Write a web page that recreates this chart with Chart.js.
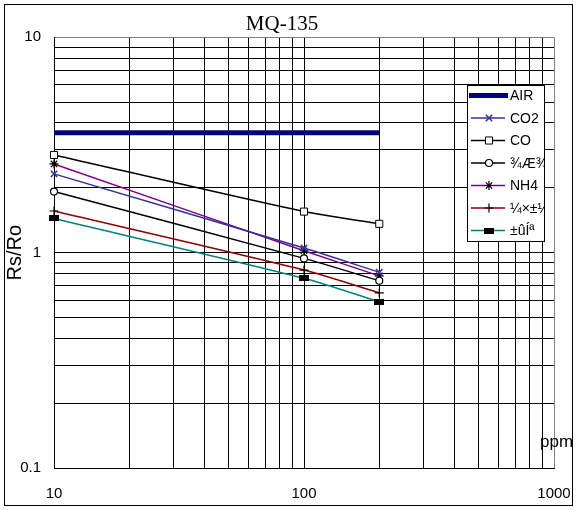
<!DOCTYPE html>
<html>
<head>
<meta charset="utf-8">
<title>MQ-135</title>
<script src="https://cdn.jsdelivr.net/npm/chart.js@4.4.0/dist/chart.umd.min.js"></script>
<style>
  html, body { margin: 0; padding: 0; background: #fff; }
  #caixa { width: 579px; height: 510px; }
</style>
</head>
<body>
<div id="caixa"><canvas id="grafico-mq135" width="579" height="510"></canvas></div>
<script>
// concentração (ppm) e Rs/Ro
const concentracoes = [10, 100, 200];
const arLimpo = [3.6, 3.6, 3.6];
const co2 = [2.32, 1.05, 0.81];
const co = [2.84, 1.55, 1.36];
const alcool = [1.92, 0.94, 0.74];
const nh4 = [2.58, 1.02, 0.78];
const tolueno = [1.56, 0.83, 0.65];
const acetona = [1.44, 0.76, 0.59];

const nomes = ["AIR", "CO2", "CO", "¾Æ¾«", "NH4", "¼×±½", "±ûÍª"];

const xTicks = [10, 20, 30, 40, 50, 60, 70, 80, 90, 100, 200, 300, 400, 500, 600, 700, 800, 900, 1000];
const yTicks = [0.1, 0.2, 0.3, 0.4, 0.5, 0.6, 0.7, 0.8, 0.9, 1, 2, 3, 4, 5, 6, 7, 8, 9, 10];
const xDecadas = [10, 100, 1000];
const xTickLabels = ["10", "100", "1000"];
const yDecadas = [0.1, 1, 10];
const yTickLabels = ["0.1", "1", "10"];

document.addEventListener("DOMContentLoaded", () => {
  const pontos = valores => concentracoes.map((x, i) => ({ x: x, y: valores[i] }));

  // marcador retangular preto (acetona)
  const marcaRet = document.createElement("canvas");
  marcaRet.width = 10;
  marcaRet.height = 6;
  const mctx = marcaRet.getContext("2d");
  mctx.fillStyle = "#000";
  mctx.fillRect(0, 0, 10, 6);

  const base = {
    fill: false,
    tension: 0.25,
    borderWidth: 1.5,
    clip: false,
    pointBorderWidth: 1.2,
    pointBackgroundColor: "#fff"
  };

  const series = [
    { ...base, label: nomes[0], data: pontos(arLimpo), borderColor: "#000080", borderWidth: 5, tension: 0, pointRadius: 0 },
    { ...base, label: nomes[1], data: pontos(co2), borderColor: "#333399", pointStyle: "crossRot", pointRadius: 4.5, pointBorderColor: "#333399", pointBorderWidth: 1.5 },
    { ...base, label: nomes[2], data: pontos(co), borderColor: "#000", pointStyle: "rect", pointRadius: 5, pointBorderColor: "#000", pointBorderWidth: 1 },
    { ...base, label: nomes[3], data: pontos(alcool), borderColor: "#000", pointStyle: "circle", pointRadius: 3.5, pointBorderColor: "#000" },
    { ...base, label: nomes[4], data: pontos(nh4), borderColor: "#800080", pointStyle: "star", pointRadius: 4.5, pointBorderColor: "#000" },
    { ...base, label: nomes[5], data: pontos(tolueno), borderColor: "#8b0000", pointStyle: "cross", pointRadius: 4.5, pointBorderColor: "#000" },
    { ...base, label: nomes[6], data: pontos(acetona), borderColor: "#008080", pointStyle: marcaRet, pointRadius: 5, pointBorderColor: "#000", pointBackgroundColor: "#000" }
  ];

  const extras = {
    id: "extras",
    afterDraw(chart) {
      const ctx = chart.ctx;
      ctx.save();
      // moldura externa
      ctx.strokeStyle = "#000";
      ctx.lineWidth = 1;
      ctx.strokeRect(4.5, 4.5, 568, 501);

      // unidade do eixo x
      ctx.fillStyle = "#000";
      ctx.font = "17px 'Liberation Sans', Arial, sans-serif";
      ctx.textBaseline = "middle";
      ctx.fillText("ppm", 540, 442);

      // legenda dentro da área do gráfico
      const lx = 467, ly = 85, lw = 77, lh = 156;
      ctx.fillStyle = "#fff";
      ctx.fillRect(lx, ly, lw, lh);
      ctx.strokeStyle = "#000";
      ctx.strokeRect(lx + 0.5, ly + 0.5, lw, lh);
      ctx.beginPath();
      ctx.rect(lx + 1, ly + 1, lw - 1, lh - 1);
      ctx.clip();
      chart.data.datasets.forEach((ds, i) => {
        const y = 95.5 + i * 22.5;
        ctx.strokeStyle = ds.borderColor;
        ctx.lineWidth = ds.borderWidth;
        ctx.beginPath();
        ctx.moveTo(ds.borderWidth > 3 ? 469 : 471, y);
        ctx.lineTo(ds.borderWidth > 3 ? 508 : 505, y);
        ctx.stroke();
        if (ds.pointRadius > 0) {
          ctx.strokeStyle = ds.pointBorderColor;
          ctx.fillStyle = ds.pointBackgroundColor;
          ctx.lineWidth = ds.pointBorderWidth;
          Chart.helpers.drawPoint(ctx, {
            pointStyle: ds.pointStyle,
            radius: ds.pointRadius,
            borderWidth: ds.pointBorderWidth,
            rotation: 0
          }, 489, y);
        }
        ctx.fillStyle = "#000";
        ctx.font = "14px 'Liberation Sans', Arial, sans-serif";
        ctx.textBaseline = "middle";
        ctx.fillText(ds.label, 510, y + 1);
      });
      ctx.restore();
    }
  };

  Chart.defaults.font.family = "'Liberation Sans', Arial, sans-serif";
  Chart.defaults.color = "#000";

  new Chart(document.getElementById("grafico-mq135"), {
    type: "line",
    data: { datasets: series },
    options: {
      responsive: false,
      animation: false,
      devicePixelRatio: 1,
      layout: { padding: { left: 0, right: 15, top: 0, bottom: 0 } },
      plugins: {
        legend: { display: false },
        tooltip: { enabled: false },
        title: {
          display: true,
          text: "MQ-135",
          color: "#000",
          font: { family: "'Liberation Serif', 'Times New Roman', serif", size: 21, weight: "normal" },
          padding: { top: 12, bottom: 0 }
        }
      },
      scales: {
        x: {
          type: "logarithmic",
          min: 10,
          max: 1000,
          afterBuildTicks: scale => { scale.ticks = xTicks.map(v => ({ value: v })); },
          afterFit: scale => {
            scale.height = 42;
            scale.paddingLeft = 0;
            scale.paddingRight = 25;
          },
          ticks: {
            autoSkip: false,
            maxRotation: 0,
            padding: 17,
            font: { size: 15 },
            callback: value => {
              const i = xDecadas.indexOf(value);
              return i >= 0 ? xTickLabels[i] : "";
            }
          },
          grid: {
            drawTicks: false,
            lineWidth: 1,
            color: c => (c.tick && c.tick.value === 1000 ? "#808080" : "#000")
          },
          border: { color: "#000", width: 1 }
        },
        y: {
          type: "logarithmic",
          min: 0.1,
          max: 10,
          afterBuildTicks: scale => { scale.ticks = yTicks.map(v => ({ value: v })); },
          afterFit: scale => { scale.width = 54; },
          title: {
            display: true,
            text: "Rs/Ro",
            color: "#000",
            font: { size: 20 },
            padding: { top: 3, bottom: 0 }
          },
          ticks: {
            autoSkip: false,
            padding: 13,
            font: { size: 15 },
            callback: value => {
              const i = yDecadas.indexOf(value);
              return i >= 0 ? yTickLabels[i] : "";
            }
          },
          grid: {
            drawTicks: false,
            lineWidth: 1,
            color: c => (c.tick && c.tick.value === 10 ? "#808080" : "#000")
          },
          border: { color: "#000", width: 1 }
        }
      }
    },
    plugins: [extras]
  });
});
</script>
</body>
</html>
